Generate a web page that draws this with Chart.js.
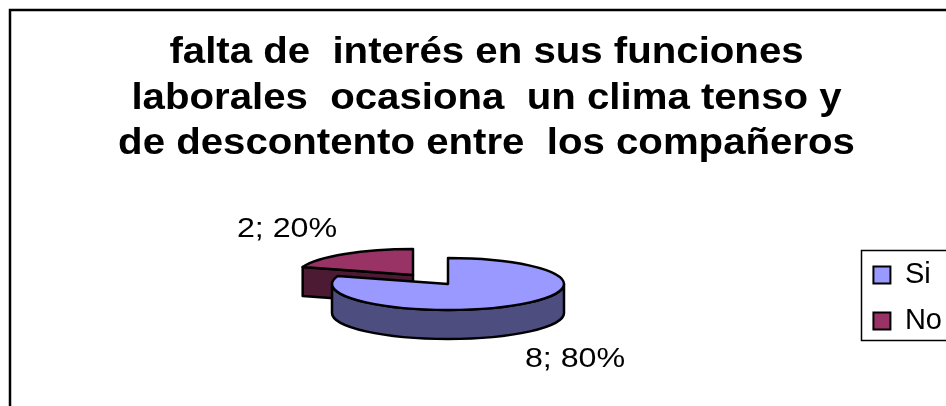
<!DOCTYPE html>
<html>
<head>
<meta charset="utf-8">
<style>
  html, body { margin:0; padding:0; background:#fff; overflow:hidden; }
</style>
<script src="https://cdn.jsdelivr.net/npm/chart.js@4"></script>
</head>
<body>
<canvas id="pie" width="946" height="406"></canvas>
<script>
const labels = ["Si", "No"];
const values = [8, 2];
const titleLines = [
  "falta de  interés en sus funciones",
  "laborales  ocasiona  un clima tenso y",
  "de descontento entre  los compañeros"
];

const COLORS = {
  top: ["#9999ff", "#993366"],
  wall: ["#4d4d80", "#4d1a33"]
};

// fake 3D look: the library's arcs get squashed and a wall is added under them
const PIE = { x:448, y:284, squash:0.224, depth:29 };
const EXPLODE = [[0, 0], [-35, -9]];
const VALUE_LABELS = [
  { x:575, y:359 },
  { x:287, y:229 }
];

const pie3d = {
  id: "pie3d",
  beforeDraw(chart){
    const ctx = chart.ctx;
    ctx.save();
    ctx.fillStyle = "#fff";
    ctx.fillRect(0, 0, chart.width, chart.height);
    ctx.strokeStyle = "#000";
    ctx.lineWidth = 2.5;
    ctx.strokeRect(10, 10, 1000, 1000);
    // legend frame
    ctx.lineWidth = 1.5;
    ctx.strokeRect(861.5, 250.5, 200, 90);
    // title, stretched sideways like the original picture
    ctx.fillStyle = "#000";
    ctx.font = "bold 37px 'Liberation Sans'";
    ctx.textAlign = "center";
    ctx.textBaseline = "middle";
    titleLines.forEach((line, i) => {
      ctx.save();
      ctx.translate(486.5, 53 + i * 45.5);
      ctx.scale(1.086, 1);
      ctx.fillText(line, 0, 0);
      ctx.restore();
    });
    ctx.restore();
  },
  beforeDatasetsDraw(chart){
    const ctx = chart.ctx;
    const arcs = chart.getDatasetMeta(0).data;
    ctx.save();
    ctx.strokeStyle = "#000";
    ctx.lineWidth = 2.5;
    ctx.lineJoin = "round";
    for (let i = arcs.length - 1; i >= 0; i--) {
      const arc = arcs[i];
      const r = arc.outerRadius;
      const rY = r * PIE.squash;
      const cx = PIE.x + EXPLODE[i][0];
      const cy = PIE.y + EXPLODE[i][1];
      const a0 = arc.startAngle, a1 = arc.endAngle;
      ctx.fillStyle = COLORS.wall[i];

      // cut face at the start of the slice, if it looks to the front
      if (Math.sin(a0 - Math.PI / 2) > 0) {
        const tx = cx + r * Math.cos(a0), ty = cy + rY * Math.sin(a0);
        ctx.beginPath();
        ctx.moveTo(cx, cy);
        ctx.lineTo(tx, ty);
        ctx.lineTo(tx, ty + PIE.depth);
        ctx.lineTo(cx, cy + PIE.depth);
        ctx.closePath();
        ctx.fill();
        ctx.stroke();
      }
      // front rim
      const w0 = Math.max(a0, 0), w1 = Math.min(a1, Math.PI);
      if (w1 > w0) {
        ctx.beginPath();
        ctx.ellipse(cx, cy, r, rY, 0, w0, w1);
        ctx.ellipse(cx, cy + PIE.depth, r, rY, 0, w1, w0, true);
        ctx.closePath();
        ctx.fill();
        ctx.stroke();
      }
      // top face
      ctx.save();
      ctx.translate(cx, cy);
      ctx.scale(1, PIE.squash);
      ctx.translate(-arc.x, -arc.y);
      arc.draw(ctx);
      ctx.restore();
      ctx.beginPath();
      ctx.moveTo(cx, cy);
      ctx.ellipse(cx, cy, r, rY, 0, a0, a1);
      ctx.closePath();
      ctx.stroke();
    }
    ctx.restore();
    return false;
  },
  afterDraw(chart){
    const ctx = chart.ctx;
    const total = values.reduce((a, b) => a + b, 0);
    ctx.save();
    ctx.fillStyle = "#000";
    ctx.font = "28px 'Liberation Sans'";
    ctx.textAlign = "center";
    ctx.textBaseline = "middle";
    values.forEach((v, i) => {
      ctx.save();
      ctx.translate(VALUE_LABELS[i].x, VALUE_LABELS[i].y);
      ctx.scale(1.15, 1);
      ctx.fillText(`${v}; ${Math.round(v / total * 100)}%`, 0, 0);
      ctx.restore();
    });
    ctx.restore();
  }
};

new Chart(document.getElementById("pie"), {
  type: "pie",
  data: {
    labels,
    datasets: [{
      data: values,
      backgroundColor: COLORS.top,
      borderWidth: 0
    }]
  },
  options: {
    responsive: false,
    animation: false,
    radius: 116,
    layout: { padding: { top:180, bottom:-10, left:0, right:-6 } },
    plugins: {
      tooltip: { enabled:false },
      title: { display:false },
      legend: {
        position: "right",
        align: "center",
        labels: {
          color: "#000",
          font: { family:"'Liberation Sans'", size:29, lineHeight:1.25 },
          boxWidth: 17,
          boxHeight: 17,
          padding: 17,
          generateLabels: () => labels.map((text, i) => ({
            text,
            fillStyle: COLORS.top[i],
            strokeStyle: "#000",
            lineWidth: 2,
            index: i
          }))
        }
      }
    }
  },
  plugins: [pie3d]
});
</script>
</body>
</html>
